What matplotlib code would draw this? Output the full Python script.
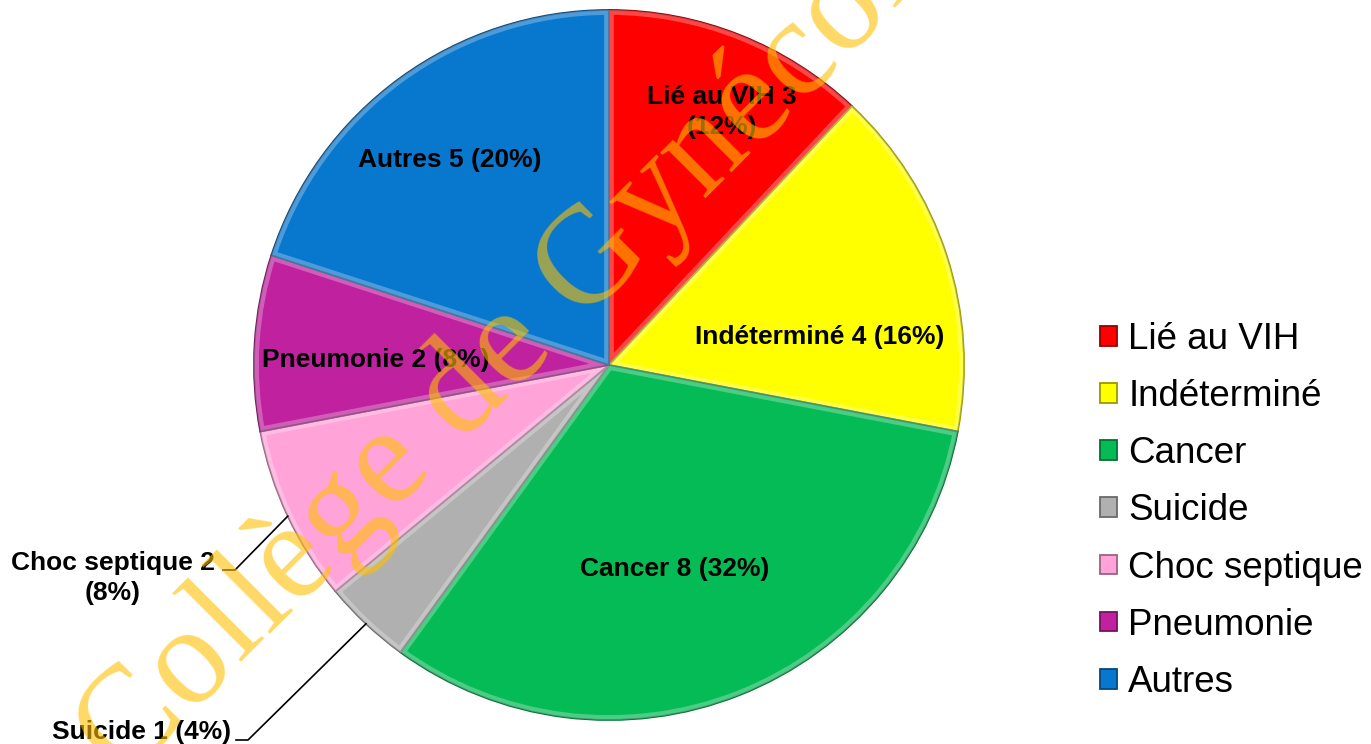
import numpy as np
import matplotlib
matplotlib.use('Agg')
import matplotlib.pyplot as plt
from matplotlib import font_manager
from matplotlib.ft2font import FT2Font
from matplotlib.colors import to_rgb
from matplotlib.patches import Wedge

# data
causes = ['Lié au VIH', 'Indéterminé', 'Cancer', 'Suicide', 'Choc septique', 'Pneumonie', 'Autres']
counts = [3, 4, 8, 1, 2, 2, 5]
colors = ['#FF0000', '#FFFF00', '#05BB55', '#B0B0B0', '#FFA3D9', '#BF219F', '#0877CE']
# labels that wrap before the percentage
wrapped = ['Lié au VIH', 'Choc septique']

W, H = 1371, 744
# label centers in pixels (x, y from top)
label_pos = [(722, 112), (820, 337), (675, 569), (142, 732), (113, 578), (376, 360), (450, 160)]
# leader lines: label index -> start of the short horizontal tick
leaders = {3: (236, 740), 4: (223, 570)}

fig = plt.figure(figsize=(W / 100, H / 100), dpi=100)
ax = fig.add_axes([0, 0, 1, 1])

cx, cy, r = 609, H - 365, 355
wedges, _ = ax.pie(counts, colors=colors, startangle=90, counterclock=False,
                   center=(cx, cy), radius=r,
                   wedgeprops=dict(linewidth=1.3))
for w, c in zip(wedges, colors):
    w.set_edgecolor(tuple(np.array(to_rgb(c)) * 0.6))
    # soft bevel: light band just inside each slice's border
    hl = Wedge((cx, cy), r, w.theta1, w.theta2, facecolor='none',
               edgecolor='white', linewidth=7, alpha=0.28, zorder=w.get_zorder() + 0.1)
    ax.add_patch(hl)
    hl.set_clip_path(w)

ax.set_xlim(0, W)
ax.set_ylim(0, H)
ax.axis('off')

total = sum(counts)
for i, (name, n) in enumerate(zip(causes, counts)):
    pct = round(100 * n / total)
    sep = '\n' if name in wrapped else ' '
    txt = f'{name} {n}{sep}({pct}%)'
    x, y = label_pos[i]
    ax.text(x, H - y, txt, ha='center', va='center', fontsize=19, fontweight='bold',
            family='Liberation Sans', linespacing=1.35, zorder=5)

for i, (x0, y0) in leaders.items():
    w = wedges[i]
    mid = np.deg2rad((w.theta1 + w.theta2) / 2)
    ex, ey = cx + r * np.cos(mid), cy + r * np.sin(mid)
    ax.plot([x0, x0 + 12, ex], [H - y0, H - y0, ey], color='black', lw=1.2, zorder=4)

ax.legend(wedges, causes, loc='center left', bbox_to_anchor=(1100 / W, 233 / H),
          bbox_transform=fig.transFigure, frameon=False, prop={'family': 'Liberation Sans', 'size': 26.5},
          handlelength=0.45, handleheight=0.45, handletextpad=0.32, labelspacing=0.6,
          borderpad=0, borderaxespad=0)

# watermark, placed letter by letter with a little extra tracking
mark = 'Collège de Gynécologie'
wm_size = 100
tracking = 1.5
ang = 45
fpath = font_manager.findfont(font_manager.FontProperties(family='Liberation Serif'))
ft = FT2Font(fpath)
ft.set_size(wm_size, 100)
ux, uy = np.cos(np.deg2rad(ang)), np.sin(np.deg2rad(ang))
sx, sy = 122, H - 779
pos = 0.0
for ch in mark:
    ax.text(sx + pos * ux, sy + pos * uy, ch, rotation=ang, rotation_mode='anchor',
            ha='left', va='baseline', fontsize=wm_size, family='Liberation Serif',
            color='#FFC000', alpha=0.6, zorder=10)
    g = ft.load_char(ord(ch))
    pos += g.linearHoriAdvance / 65536 + tracking

fig.savefig('out.png', dpi=100)
